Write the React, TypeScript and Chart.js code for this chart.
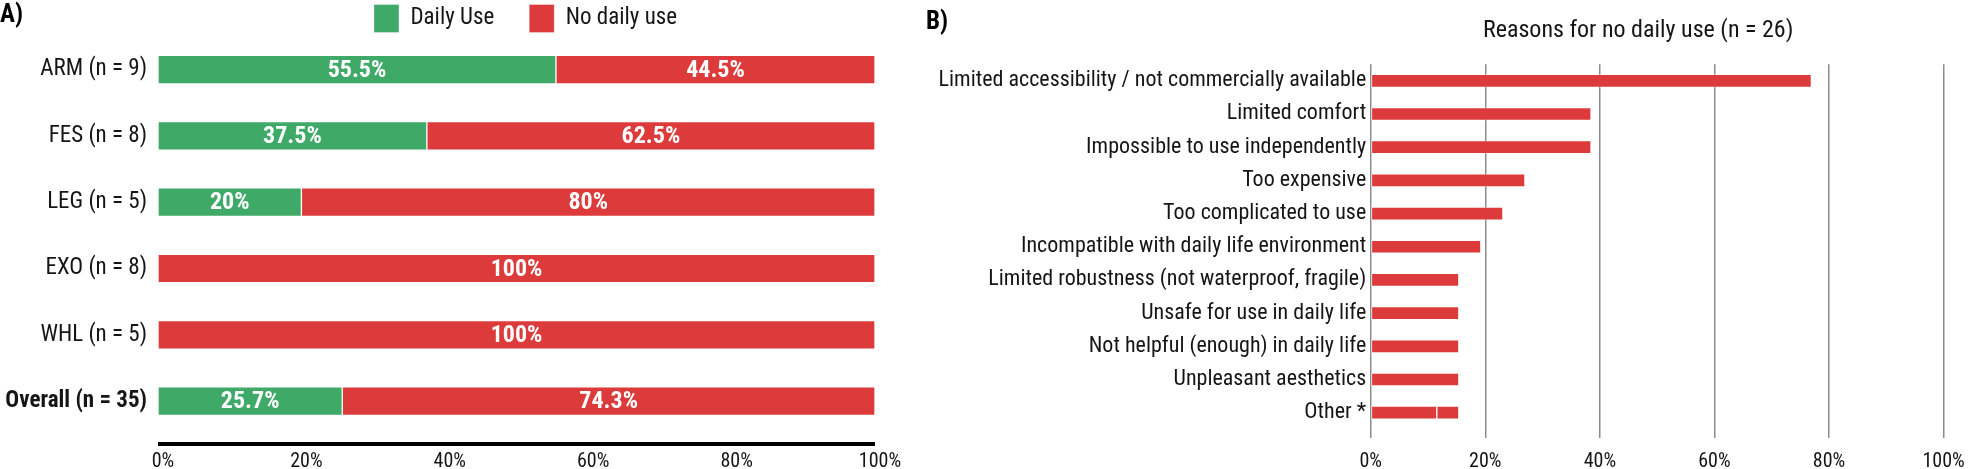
import React, { useEffect, useRef } from "react";
import { Chart, registerables } from "chart.js";

Chart.register(...registerables);

const FONT =
  "'Liberation Sans Narrow', 'Roboto Condensed', 'DejaVu Sans Condensed', 'Liberation Sans', sans-serif";

// ---- Panel A data ----
const deviceGroups = ["ARM (n = 9)", "FES (n = 8)", "LEG (n = 5)", "EXO (n = 8)", "WHL (n = 5)", "Overall (n = 35)"];
const dailyUse = [55.5, 37.5, 20, 0, 0, 25.7];
const noDailyUse = [44.5, 62.5, 80, 100, 100, 74.3];
const percentTicks = [0, 20, 40, 60, 80, 100];

// ---- Panel B data ----
const reasons = [
  "Limited accessibility / not commercially available",
  "Limited comfort",
  "Impossible to use independently",
  "Too expensive",
  "Too complicated to use",
  "Incompatible with daily life environment",
  "Limited robustness (not waterproof, fragile)",
  "Unsafe for use in daily life",
  "Not helpful (enough) in daily life",
  "Unpleasant aesthetics",
  "Other *",
];
const reasonCounts = [20, 10, 10, 7, 6, 5, 4, 4, 4, 4, 3];
const reasonExtraCounts = [0, 0, 0, 0, 0, 0, 0, 0, 0, 0, 1];
const reasonsN = 26;

const GREEN = "#3fa968";
const RED = "#dc3a3b";
const BAR_EDGE = "rgba(255,255,255,0.35)";
const TEXT = "#151515";
const GRID = "rgba(0,0,0,0.45)";

const nudgePlugin = {
  id: "nudge",
  afterLayout(chart: any, _args: any, opts: any) {
    const apply = (box: any, d: any) => {
      if (!box || !d) return;
      const dx = d.dx || 0;
      const dy = d.dy || 0;
      box.left += dx;
      box.right += dx;
      box.top += dy;
      if (!d.keepBottom) box.bottom += dy;
    };
    apply(chart.legend, opts.legend);
    apply(chart.titleBlock, opts.title);
  },
};

const axisLinePlugin = {
  id: "axisLine",
  afterDraw(chart: any, _args: any, opts: any) {
    if (!opts || !opts.display) return;
    const x = chart.scales.x;
    const ctx = chart.ctx;
    const yy = chart.chartArea.bottom + opts.offset;
    ctx.save();
    ctx.strokeStyle = opts.color;
    ctx.lineWidth = opts.width;
    ctx.beginPath();
    ctx.moveTo(x.getPixelForValue(x.min), yy);
    ctx.lineTo(x.getPixelForValue(x.max), yy);
    ctx.stroke();
    ctx.restore();
  },
};

const valueLabelPlugin = {
  id: "valueLabels",
  afterDatasetsDraw(chart: any, _args: any, opts: any) {
    if (!opts || !opts.display) return;
    const ctx = chart.ctx;
    ctx.save();
    ctx.font = `bold ${opts.size}px ${FONT}`;
    ctx.fillStyle = opts.color;
    ctx.textAlign = "center";
    ctx.textBaseline = "middle";
    chart.data.datasets.forEach((ds: any, di: number) => {
      const meta = chart.getDatasetMeta(di);
      meta.data.forEach((el: any, i: number) => {
        const v = ds.data[i];
        if (!v) return;
        const p = el.getCenterPoint();
        ctx.fillText(`${v}%`, p.x, p.y + 1);
      });
    });
    ctx.restore();
  },
};

function UsageChart() {
  const ref = useRef<HTMLCanvasElement>(null);
  useEffect(() => {
    const chart = new Chart(ref.current as HTMLCanvasElement, {
      type: "bar",
      data: {
        labels: deviceGroups,
        datasets: [
          {
            label: "Daily Use",
            data: dailyUse,
            backgroundColor: GREEN,
            borderColor: BAR_EDGE,
            borderWidth: 1,
            borderSkipped: false,
            barThickness: 28.5,
          },
          {
            label: "No daily use",
            data: noDailyUse,
            backgroundColor: RED,
            borderColor: BAR_EDGE,
            borderWidth: 1,
            borderSkipped: false,
            barThickness: 28.5,
          },
        ],
      },
      options: {
        indexAxis: "y",
        responsive: false,
        animation: false,
        devicePixelRatio: 1,
        events: [],
        layout: { padding: { left: 0, right: 40, top: 0, bottom: 0 } },
        scales: {
          x: {
            stacked: true,
            min: 0,
            max: 100,
            grid: { display: false, drawTicks: true, tickLength: 20.7 },
            border: { display: false },
            afterBuildTicks: (s: any) => {
              s.ticks = percentTicks.map((v) => ({ value: v }));
            },
            ticks: {
              callback: (v: any) => `${v}%`,
              color: TEXT,
              padding: 0,
              labelOffset: 5,
              maxRotation: 0,
              font: { family: FONT, size: 20, lineHeight: 0.7 },
            },
          },
          y: {
            stacked: true,
            grid: { display: false, drawTicks: true, tickLength: 11 },
            border: { display: false },
            afterFit: (s: any) => {
              s.width = 158;
            },
            ticks: {
              color: TEXT,
              padding: 0,
              font: (c: any) => ({
                family: FONT,
                size: 23,
                lineHeight: 0.1,
                weight: c.index === deviceGroups.length - 1 ? "bold" : "normal",
              }),
            },
          },
        },
        plugins: {
          legend: {
            position: "top",
            fullSize: false,
            maxHeight: 36.4,
            labels: {
              boxWidth: 25,
              boxHeight: 28,
              padding: 35,
              color: TEXT,
              font: { family: FONT, size: 23 },
            },
          },
          tooltip: { enabled: false },
          nudge: { legend: { dx: 9, dy: -30.5, keepBottom: true } },
          axisLine: { display: true, offset: 9.8, width: 4, color: "#000" },
          valueLabels: { display: true, size: 24, color: "#ffffff" },
        } as any,
      },
      plugins: [nudgePlugin, axisLinePlugin, valueLabelPlugin],
    } as any);
    return () => chart.destroy();
  }, []);
  return (
    <canvas
      ref={ref}
      width={915}
      height={469}
      style={{ position: "absolute", left: 0, top: 0, width: 915, height: 469 }}
    />
  );
}

function ReasonsChart() {
  const ref = useRef<HTMLCanvasElement>(null);
  useEffect(() => {
    const chart = new Chart(ref.current as HTMLCanvasElement, {
      type: "bar",
      data: {
        labels: reasons,
        datasets: [
          {
            label: "Reasons",
            data: reasonCounts.map((c) => (c / reasonsN) * 100),
            backgroundColor: RED,
            borderColor: BAR_EDGE,
            borderWidth: 1,
            borderSkipped: false,
            barThickness: 13,
          },
          {
            label: "Other (additional)",
            data: reasonExtraCounts.map((c) => (c / reasonsN) * 100),
            backgroundColor: RED,
            borderColor: BAR_EDGE,
            borderWidth: 1,
            borderSkipped: false,
            barThickness: 13,
          },
        ],
      },
      options: {
        indexAxis: "y",
        responsive: false,
        animation: false,
        devicePixelRatio: 1,
        events: [],
        layout: { padding: { left: 0, right: 24.4, top: 0, bottom: 0 } },
        scales: {
          x: {
            stacked: true,
            min: 0,
            max: 100,
            z: 1,
            grid: {
              color: GRID,
              lineWidth: 1.5,
              drawTicks: true,
              tickLength: 24.7,
              tickColor: GRID,
              tickWidth: 1.5,
              tickBorderDash: [9, 60],
            },
            border: { display: false },
            afterBuildTicks: (s: any) => {
              s.ticks = percentTicks.map((v) => ({ value: v }));
            },
            ticks: {
              callback: (v: any) => `${v}%`,
              color: TEXT,
              padding: 0,
              maxRotation: 0,
              font: { family: FONT, size: 20, lineHeight: 0.75 },
            },
          },
          y: {
            stacked: true,
            grid: { display: false, drawTicks: true, tickLength: 4.5 },
            border: { display: false },
            afterFit: (s: any) => {
              s.width = 470.7;
            },
            ticks: {
              color: TEXT,
              padding: 0,
              autoSkip: false,
              font: { family: FONT, size: 22, lineHeight: 0.1 },
            },
          },
        },
        plugins: {
          legend: { display: false },
          tooltip: { enabled: false },
          title: {
            display: true,
            text: `Reasons for no daily use (n = ${reasonsN})`,
            fullSize: false,
            color: TEXT,
            font: { family: FONT, size: 24, weight: "normal", lineHeight: 1.05 },
            padding: { top: 18, bottom: 21 },
          },
          nudge: { title: { dx: -19 } },
        } as any,
      },
      plugins: [nudgePlugin],
    } as any);
    return () => chart.destroy();
  }, []);
  return (
    <canvas
      ref={ref}
      width={1068}
      height={469}
      style={{ position: "absolute", left: 900, top: 0, width: 1068, height: 469 }}
    />
  );
}

export default function App() {
  const panelLabel: React.CSSProperties = {
    position: "absolute",
    fontFamily: FONT,
    fontWeight: "bold",
    fontSize: 25,
    lineHeight: "24px",
    color: "#000",
    whiteSpace: "nowrap",
  };
  return (
    <div
      style={{
        position: "absolute",
        left: 0,
        top: 0,
        width: 1968,
        height: 469,
        background: "#ffffff",
        overflow: "hidden",
      }}
    >
      <UsageChart />
      <ReasonsChart />
      <div style={{ ...panelLabel, left: 0, top: 2 }}>A)</div>
      <div style={{ ...panelLabel, left: 926, top: 9 }}>B)</div>
    </div>
  );
}
